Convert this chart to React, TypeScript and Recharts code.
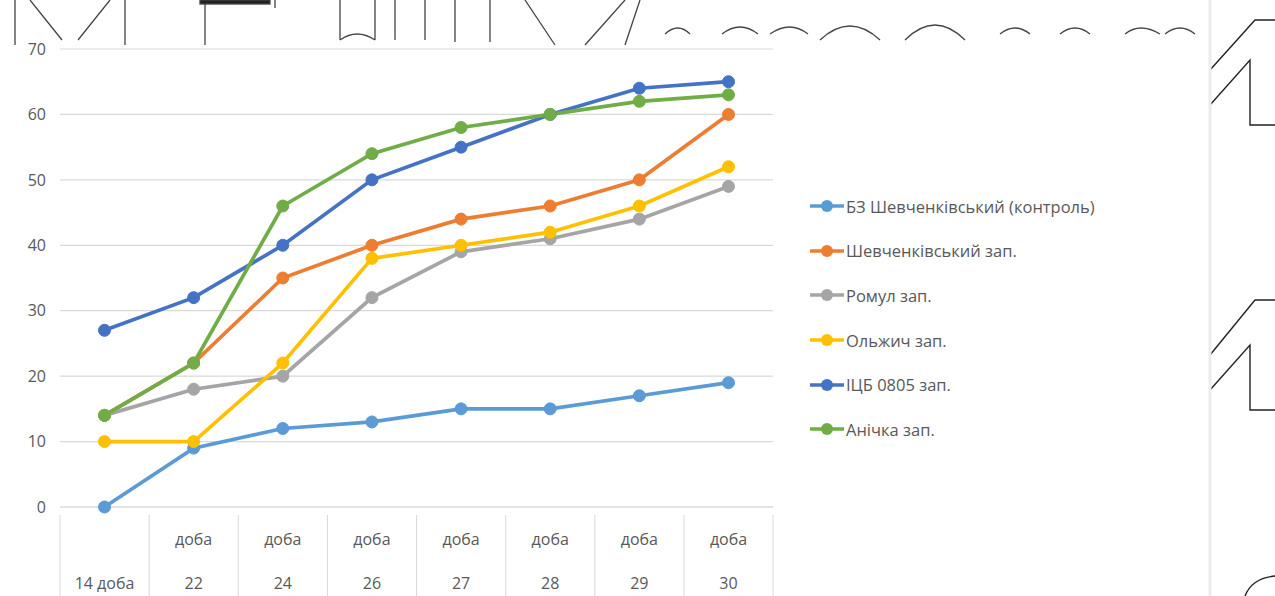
import React from 'react';
import { LineChart, Line, XAxis, YAxis, CartesianGrid } from 'recharts';

// Germination dynamics by day, per variety
const days = ['14 доба', 'доба 22', 'доба 24', 'доба 26', 'доба 27', 'доба 28', 'доба 29', 'доба 30'];
const control = [0, 9, 12, 13, 15, 15, 17, 19];
const shevchenkivskyi = [14, 22, 35, 40, 44, 46, 50, 60];
const romul = [14, 18, 20, 32, 39, 41, 44, 49];
const olzhych = [10, 10, 22, 38, 40, 42, 46, 52];
const icb0805 = [27, 32, 40, 50, 55, 60, 64, 65];
const anichka = [14, 22, 46, 54, 58, 60, 62, 63];
const yTicks = [0, 10, 20, 30, 40, 50, 60, 70];

const series = [
    { key: 'control', name: 'БЗ Шевченківський (контроль)', color: '#5B9BD5', values: control },
    { key: 'shev', name: 'Шевченківський зап.', color: '#ED7D31', values: shevchenkivskyi },
    { key: 'romul', name: 'Ромул зап.', color: '#A5A5A5', values: romul },
    { key: 'olzh', name: 'Ольжич зап.', color: '#FFC000', values: olzhych },
    { key: 'icb', name: 'ІЦБ 0805 зап.', color: '#4472C4', values: icb0805 },
    { key: 'anich', name: 'Анічка зап.', color: '#70AD47', values: anichka },
];

const data = days.map((d, i) => {
    const row: Record<string, string | number> = { day: d };
    series.forEach((s) => { row[s.key] = s.values[i]; });
    return row;
});

const FONT = '"Open Sans", "Noto Sans", sans-serif';
const TEXT = '#595959';
const GRID = '#d9d9d9';
const HALF_BAND = 44.5;

function DayTick(props: any) {
    const { x, y, payload, index } = props;
    const half = payload.offset || HALF_BAND;
    const parts = String(payload.value).split(' ');
    const isFirst = parts[0] !== 'доба';
    return (
        <g>
            <line x1={x - half} y1={y} x2={x - half} y2={y + 95} stroke={GRID} strokeWidth={1} />
            {index === days.length - 1 && (
                <line x1={x + half} y1={y} x2={x + half} y2={y + 95} stroke={GRID} strokeWidth={1} />
            )}
            {isFirst ? (
                <text x={x} y={y + 74} textAnchor="middle" fill={TEXT} fontSize={16} fontFamily={FONT}>
                    {payload.value}
                </text>
            ) : (
                <>
                    <text x={x} y={y + 30} textAnchor="middle" fill={TEXT} fontSize={16} fontFamily={FONT}>
                        {parts[0]}
                    </text>
                    <text x={x} y={y + 74} textAnchor="middle" fill={TEXT} fontSize={16} fontFamily={FONT}>
                        {parts[1]}
                    </text>
                </>
            )}
        </g>
    );
}

function SideLegend() {
    return (
        <div style={{ position: 'absolute', left: 810, top: 184, fontFamily: FONT }}>
            {series.map((s) => (
                <div key={s.key} style={{ display: 'flex', alignItems: 'center', height: 44.6 }}>
                    <svg width={34} height={14} style={{ marginRight: 2 }}>
                        <line x1={0} y1={7} x2={34} y2={7} stroke={s.color} strokeWidth={3.5} />
                        <circle cx={17} cy={7} r={6} fill={s.color} />
                    </svg>
                    <span style={{ fontSize: 16.5, color: TEXT, whiteSpace: 'nowrap' }}>{s.name}</span>
                </div>
            ))}
        </div>
    );
}

// faint scan artifacts from the page behind the chart
function Backdrop() {
    const s = { stroke: '#444', strokeWidth: 1.3, fill: 'none' };
    return (
        <svg width={1275} height={596} style={{ position: 'absolute', left: 0, top: 0 }}>
            <g {...s}>
                <path d="M15 0 V45 M30 0 L62 40 M78 40 L110 0 M125 0 V45" />
                <path d="M205 0 V45 M275 0 V8" />
                <rect x={200} y={0} width={70} height={4} fill="#222" />
                <path d="M340 0 V40 M375 0 V40 M395 0 V40 M425 0 V40 M340 40 Q357 28 375 40" />
                <path d="M455 0 V42 M490 0 V42" />
                <path d="M525 0 L555 45 M585 45 L625 0 M640 0 L625 45" />
                <path d="M665 34 Q678 22 690 34 M722 34 Q740 20 758 34 M770 34 Q790 20 808 34" />
                <path d="M820 40 Q850 12 880 40 M905 40 Q935 10 965 40" />
                <path d="M1000 34 Q1015 22 1030 34 M1060 34 Q1075 22 1090 34 M1125 34 Q1140 22 1160 34 M1165 34 Q1180 22 1195 34" />
            </g>
            <g stroke="#222" strokeWidth={1.4} fill="none">
                <path d="M1210 70 L1255 20 H1275 M1210 105 L1250 60 V125 H1275" />
                <path d="M1210 355 L1255 300 H1275 M1210 390 L1250 345 V410 H1275" />
                <path d="M1245 596 Q1252 578 1275 576" />
            </g>
            <line x1={1210} y1={0} x2={1210} y2={596} stroke="#ececec" strokeWidth={3} />
        </svg>
    );
}

export default function App() {
    return (
        <div style={{ position: 'absolute', left: 0, top: 0, width: 1275, height: 596, overflow: 'hidden', background: '#fff' }}>
            <Backdrop />
            <div style={{ position: 'absolute', left: 0, top: 0 }}>
                <LineChart width={790} height={596} data={data} margin={{ top: 49, right: 17, left: 0, bottom: 0 }}>
                    <CartesianGrid vertical={false} stroke={GRID} strokeWidth={1.2} />
                    <XAxis
                        dataKey="day"
                        interval={0}
                        height={89}
                        padding={{ left: HALF_BAND, right: HALF_BAND }}
                        axisLine={{ stroke: GRID }}
                        tickLine={false}
                        tick={<DayTick />}
                    />
                    <YAxis
                        width={60}
                        domain={[0, 70]}
                        ticks={yTicks}
                        axisLine={false}
                        tickLine={false}
                        tickSize={0}
                        tickMargin={14}
                        tick={{ fill: TEXT, fontSize: 16, fontFamily: FONT }}
                    />
                    {series.map((s) => (
                        <Line
                            key={s.key}
                            dataKey={s.key}
                            name={s.name}
                            stroke={s.color}
                            strokeWidth={3.7}
                            dot={{ r: 6, fill: s.color, stroke: s.color, strokeWidth: 1 }}
                            isAnimationActive={false}
                        />
                    ))}
                </LineChart>
            </div>
            <SideLegend />
        </div>
    );
}
